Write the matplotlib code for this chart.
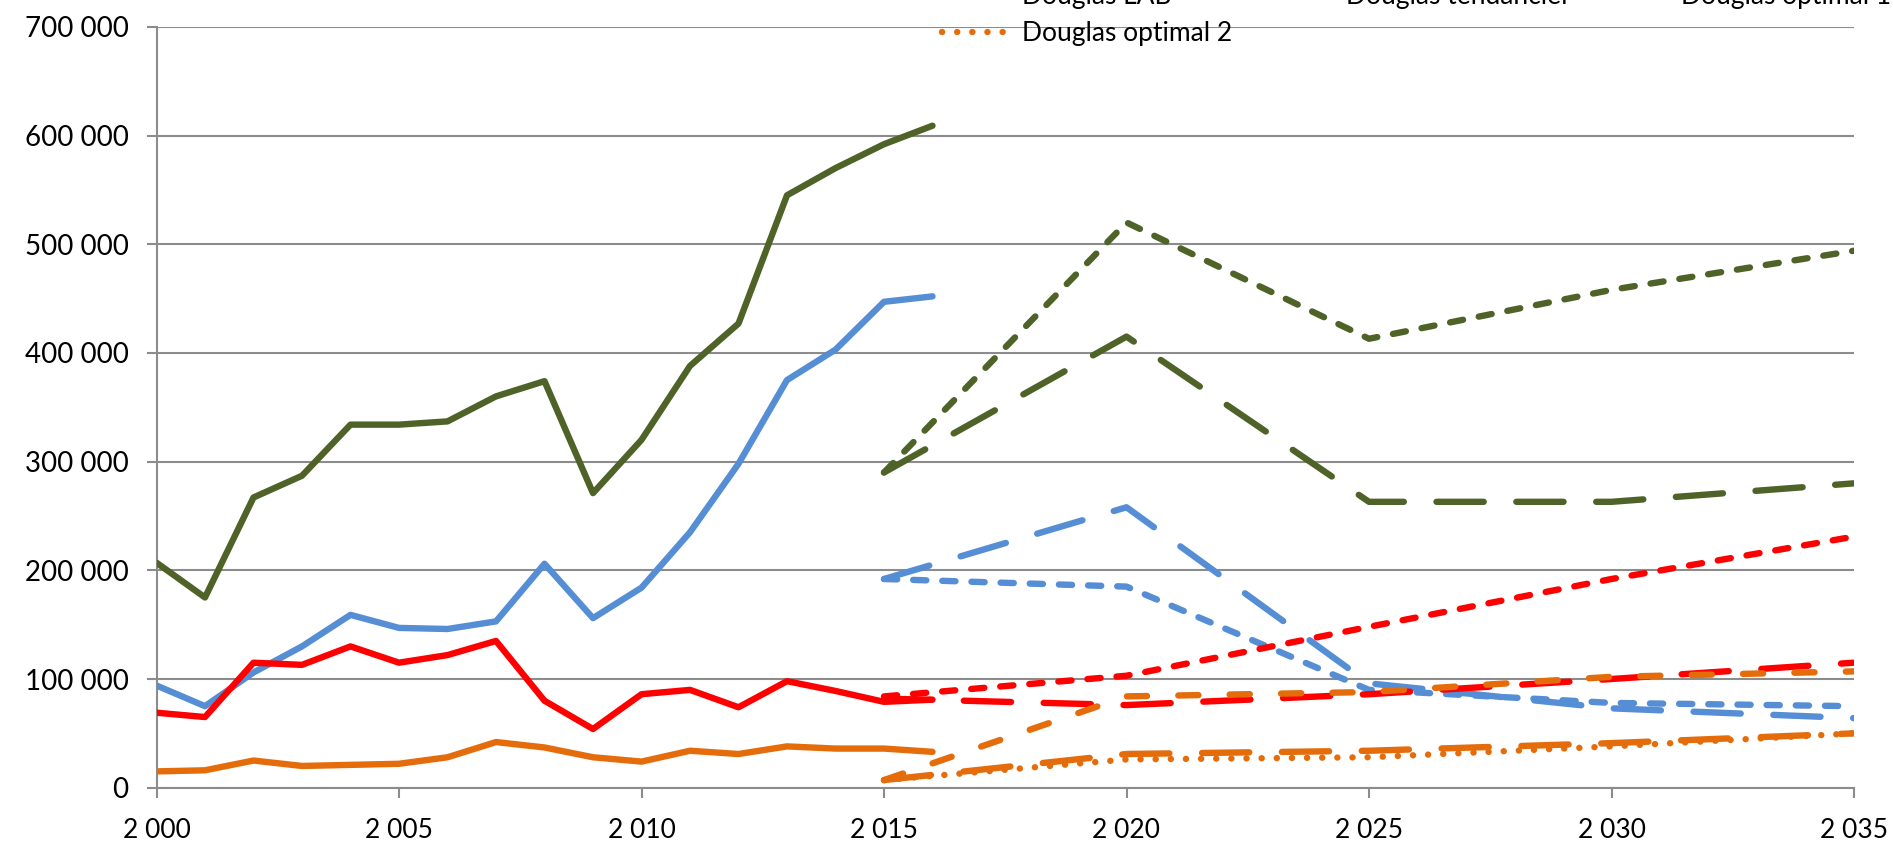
import matplotlib
matplotlib.use('Agg')
import matplotlib.pyplot as plt
from matplotlib.ticker import FuncFormatter, MultipleLocator

# ── données ───────────────────────────────────────────────────
annees_hist = list(range(2000, 2017))
annees_proj = [2015, 2020, 2025, 2030, 2035]

vert_lab  = [207000, 175000, 267000, 287000, 334000, 334000, 337000, 360000, 374000,
             271000, 320000, 388000, 427000, 545000, 570000, 592000, 609000]
bleu_lab  = [94000, 75000, 106000, 130000, 159000, 147000, 146000, 153000, 206000,
             156000, 184000, 235000, 298000, 375000, 403000, 447000, 452000]
rouge_lab = [69000, 65000, 115000, 113000, 130000, 115000, 122000, 135000, 80000,
             54000, 86000, 90000, 74000, 98000, 89000, 79000, 81000]
douglas_lab = [15000, 16000, 25000, 20000, 21000, 22000, 28000, 42000, 37000,
               28000, 24000, 34000, 31000, 38000, 36000, 36000, 33000]

vert_tend  = [290000, 520000, 413000, 458000, 494000]
vert_opt1  = [290000, 415000, 263000, 263000, 280000]
bleu_tend  = [192000, 185000, 90000, 78000, 75000]
bleu_opt1  = [192000, 258000, 96000, 73000, 64000]
rouge_tend = [84000, 103000, 148000, 192000, 231000]
rouge_opt1 = [82000, 76000, 86000, 100000, 115000]
douglas_tend = [7000, 84000, 88000, 102000, 107000]
douglas_opt1 = [7000, 31000, 34000, 41000, 50000]
douglas_opt2 = [7000, 26000, 28000, 38000, 50000]

# ── style ─────────────────────────────────────────────────────
VERT, BLEU, ROUGE, ORANGE = '#4F6228', '#558ED5', '#FF0000', '#E46C0A'
GRIS = '#8C8C8C'
LW = 4.6
TIRETS_LONGS  = (0, (34, 23.5))
TIRETS_COURTS = (0, (9.5, 11.5))
TIRETS_MOYENS = (0, (14.5, 22.5))
POINTS        = (0, (0.1, 10.8))

plt.rcParams['font.family'] = ['Lato', 'DejaVu Sans']
plt.rcParams['lines.scale_dashes'] = False

fig = plt.figure(figsize=(18.93, 8.42), dpi=100)
ax = fig.add_axes([156.5 / 1893, 1 - 787.7 / 842, (1854 - 156.5) / 1893, (787.7 - 26.8) / 842])

kw = dict(lw=LW, solid_capstyle='round', dash_capstyle='round',
          solid_joinstyle='round', dash_joinstyle='round', zorder=3)

ax.plot(annees_hist, vert_lab, color=VERT, **kw)
ax.plot(annees_hist, bleu_lab, color=BLEU, **kw)
ax.plot(annees_hist, rouge_lab, color=ROUGE, **kw)
h_lab, = ax.plot(annees_hist, douglas_lab, color=ORANGE, **kw)

ax.plot(annees_proj, vert_tend, color=VERT, ls=TIRETS_COURTS, **kw)
ax.plot(annees_proj, vert_opt1, color=VERT, ls=TIRETS_LONGS, **kw)
ax.plot(annees_proj, bleu_tend, color=BLEU, ls=TIRETS_COURTS, **kw)
ax.plot(annees_proj, bleu_opt1, color=BLEU, ls=TIRETS_LONGS, **kw)
ax.plot(annees_proj, rouge_tend, color=ROUGE, ls=TIRETS_COURTS, **kw)
ax.plot(annees_proj, rouge_opt1, color=ROUGE, ls=TIRETS_LONGS, **kw)
h_tend, = ax.plot(annees_proj, douglas_tend, color=ORANGE, ls=TIRETS_MOYENS, **kw)
h_opt1, = ax.plot(annees_proj, douglas_opt1, color=ORANGE, ls=TIRETS_LONGS, **kw)
h_opt2, = ax.plot(annees_proj, douglas_opt2, color=ORANGE, ls=POINTS, **kw)

ax.set_xlim(2000, 2035)
ax.set_ylim(0, 700000)
ax.xaxis.set_major_locator(MultipleLocator(5))
ax.yaxis.set_major_locator(MultipleLocator(100000))
espace = FuncFormatter(lambda v, p: f'{v:,.0f}'.replace(',', ' '))
ax.xaxis.set_major_formatter(espace)
ax.yaxis.set_major_formatter(espace)

ax.grid(axis='y', color=GRIS, lw=1.5, zorder=0)
ax.set_axisbelow(True)
for s in ['top', 'right']:
    ax.spines[s].set_visible(False)
for s in ['left', 'bottom']:
    ax.spines[s].set_color(GRIS)
    ax.spines[s].set_linewidth(1.5)
ax.tick_params(axis='both', colors=GRIS, width=1.5, length=7, labelcolor='black')
ax.tick_params(axis='y', labelsize=20, pad=13)
ax.tick_params(axis='x', labelsize=19, pad=15)

# légende (les premières lignes sortent du cadre, comme sur l'original)
fig.legend([h_lab, h_opt2, h_tend, h_opt1],
           ['Douglas LAB', 'Douglas optimal 2', 'Douglas tendanciel', 'Douglas optimal 1'],
           loc='lower left', bbox_to_anchor=(942 / 1893, 1 - 46 / 842), ncol=3,
           frameon=False, borderpad=0, borderaxespad=0, fontsize=19,
           handlelength=2.6, handletextpad=0.45, columnspacing=1.25, labelspacing=0.45)

fig.savefig('out.png', dpi=100)
